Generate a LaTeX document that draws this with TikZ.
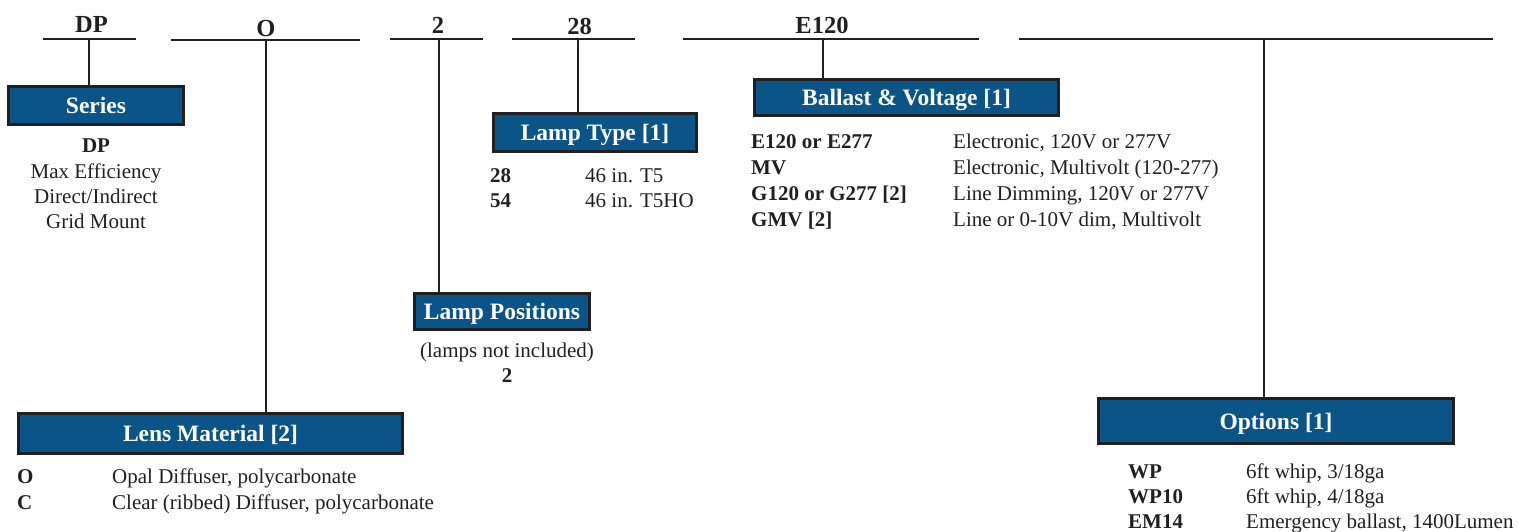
\documentclass[tikz,border=0pt]{standalone}
\usepackage{fontspec}
\setmainfont{Liberation Serif}
\definecolor{boxblue}{HTML}{0B5488}
\definecolor{ink}{HTML}{231F20}
\begin{document}
\begin{tikzpicture}[x=1pt,y=-1pt,
  rule/.style={line width=2.8pt, draw=ink},
  hdr/.style={font=\fontsize{24.5}{28}\selectfont\bfseries, text=ink, anchor=base, inner sep=0pt},
  titlebox/.style={draw=ink, line width=2.8pt, fill=boxblue, text=white,
    font=\fontsize{23.5}{27}\selectfont\bfseries, inner sep=0pt,
    text height=17pt, text depth=1pt},
  body/.style={font=\fontsize{21}{25}\selectfont, text=ink, inner sep=0pt, anchor=base west},
  bodyb/.style={body, font=\fontsize{21}{25}\selectfont\bfseries},
  bodyc/.style={body, anchor=base},
  bodycb/.style={bodyb, anchor=base}
]
\useasboundingbox (0,0) rectangle (1519,531);

% ---------- header labels ----------
\node[hdr] (hDP)   at (91.5,32) {DP};
\node[hdr] (hO)    at (266,36)  {O};
\node[hdr] (h2)    at (438,33)  {2};
\node[hdr] (h28)   at (579.5,34) {28};
\node[hdr] (hE120) at (822,33)  {E120};

% ---------- header rules ----------
\coordinate (dpL) at (43,39);   \coordinate (dpR) at (136,39);  \coordinate (dpT) at (89,39);
\coordinate (oL)  at (171,40);  \coordinate (oR)  at (360,40);  \coordinate (oT)  at (266,40);
\coordinate (tL)  at (390,39);  \coordinate (tR)  at (483,39);  \coordinate (tT)  at (439,39);
\coordinate (lL)  at (512,39);  \coordinate (lR)  at (635,39);  \coordinate (lT)  at (578,39);
\coordinate (eL)  at (683,39);  \coordinate (eR)  at (979,39);  \coordinate (eT)  at (823,39);
\coordinate (pL)  at (1019,39); \coordinate (pR)  at (1493,39); \coordinate (pT)  at (1264,39);

\draw[rule] (dpL) -- (dpR);
\draw[rule] (oL) -- (oR);
\draw[rule] (tL) -- (tR);
\draw[rule] (lL) -- (lR);
\draw[rule] (eL) -- (eR);
\draw[rule] (pL) -- (pR);

% ---------- title boxes ----------
\node[titlebox, minimum width=175pt, minimum height=38pt] (series)   at (96,105.5)   {Series};
\node[titlebox, minimum width=384pt, minimum height=40pt] (lens)     at (210.5,433.5) {Lens Material [2]};
\node[titlebox, minimum width=175pt, minimum height=36pt] (lamppos)  at (502,311.5)  {Lamp Positions};
\node[titlebox, minimum width=203pt, minimum height=38pt] (lamptype) at (595,132.5)  {Lamp Type [1]};
\node[titlebox, minimum width=304pt, minimum height=36pt] (ballast)  at (906.5,97.5) {Ballast \& Voltage [1]};
\node[titlebox, minimum width=355pt, minimum height=45pt] (options)  at (1276,421)   {Options [1]};

% ---------- connectors ----------
\draw[rule] (dpT) -- (dpT |- series.north);
\draw[rule] (oT)  -- (oT |- lens.north);
\draw[rule] (tT)  -- (tT |- lamppos.north);
\draw[rule] (lT)  -- (lT |- lamptype.north);
\draw[rule] (eT)  -- (eT |- ballast.north);
\draw[rule] (pT)  -- (pT |- options.north);

% ---------- Series text ----------
\node[bodycb] (s1) at (96,152) {DP};
\node[bodyc]  (s2) at (96,178) {Max Efficiency};
\node[bodyc]  (s3) at (96,203) {Direct/Indirect};
\node[bodyc]  (s4) at (96,228) {Grid Mount};

% ---------- Lens text ----------
\node[bodyb] (l1a) at (17,483)  {O};
\node[body]  (l1b) at (112,483) {Opal Diffuser, polycarbonate};
\node[bodyb] (l2a) at (17,509)  {C};
\node[body]  (l2b) at (112,509) {Clear (ribbed) Diffuser, polycarbonate};

% ---------- Lamp positions text ----------
\node[bodyc]  (p1) at (507,357) {(lamps not included)};
\node[bodycb] (p2) at (507,382) {2};

% ---------- Lamp type text ----------
\node[bodyb] (t1a) at (490,182) {28};
\node[body]  (t1b) at (585,182) {46 in. T5};
\node[bodyb] (t2a) at (490,207) {54};
\node[body]  (t2b) at (585,207) {46 in. T5HO};

% ---------- Ballast text ----------
\node[bodyb] (b1a) at (751,148) {E120 or E277};
\node[body]  (b1b) at (953,148) {Electronic, 120V or 277V};
\node[bodyb] (b2a) at (751,174) {MV};
\node[body]  (b2b) at (953,174) {Electronic, Multivolt (120-277)};
\node[bodyb] (b3a) at (751,200) {G120 or G277 [2]};
\node[body]  (b3b) at (953,200) {Line Dimming, 120V or 277V};
\node[bodyb] (b4a) at (751,226) {GMV [2]};
\node[body]  (b4b) at (953,226) {Line or 0-10V dim, Multivolt};

% ---------- Options text ----------
\node[bodyb] (o1a) at (1128,478) {WP};
\node[body]  (o1b) at (1246,478) {6ft whip, 3/18ga};
\node[bodyb] (o2a) at (1128,503) {WP10};
\node[body]  (o2b) at (1246,503) {6ft whip, 4/18ga};
\node[bodyb] (o3a) at (1128,528) {EM14};
\node[body]  (o3b) at (1246,528) {Emergency ballast, 1400Lumen};
\end{tikzpicture}
\end{document}
